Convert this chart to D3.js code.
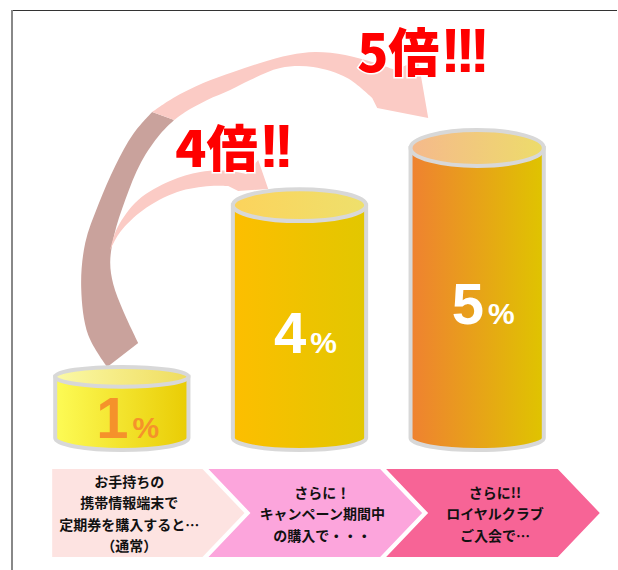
<!DOCTYPE html>
<html><head><meta charset="utf-8">
<script src="https://cdn.jsdelivr.net/npm/d3@7"></script>
<style>html,body{margin:0;padding:0;background:#fff;} svg{display:block;}</style>
</head><body><svg id="chart" width="618" height="570"></svg>
<script>
// ---- data ----
const categories = ["通常", "キャンペーン", "ロイヤルクラブ"];
const rates = [1, 4, 5];
const rateUnit = "%";
const multiplierLabels = ["4倍!!", "5倍!!!"];
const stepLines = [
  ["お手持ちの", "携帯情報端末で", "定期券を購入すると…", "（通常）"],
  ["さらに！", "キャンペーン期間中", "の購入で・・・"],
  ["さらに!!", "ロイヤルクラブ", "ご入会で…"]
];

// ---- styles ----
const bodyColors = [["#fdfb56", "#e9cc04"], ["#fdbe00", "#e2c700"], ["#ef8131", "#dfc400"]];
const capColors = [["#fbf9a6", "#efdc5e"], ["#fcd35c", "#eee06c"], ["#f5b98c", "#eddc6a"]];
const labelColors = ["#f5922b", "#ffffff", "#ffffff"];
const stepColors = ["#fde3e1", "#fca5dc", "#f76496"];
const cjk = "'Noto Sans CJK JP', 'Noto Sans CJK SC', sans-serif";

const svg = d3.select("#chart");
const x = d3.scaleBand().domain(categories).range([33, 566]).paddingInner(0.25).paddingOuter(0.125);
const y = d3.scaleLinear().domain([0, 5]).range([434, 148]);
const base = 438, baseRy = 12;
const topRy = v => 0.035 * (660 - y(v));

const defs = svg.append("defs");
categories.forEach((c, i) => {
  [["body", bodyColors[i]], ["cap", capColors[i]]].forEach(([k, cols]) => {
    const g = defs.append("linearGradient").attr("id", k + i).attr("x1", 0).attr("x2", 1).attr("y1", 0).attr("y2", 0);
    g.append("stop").attr("offset", 0).attr("stop-color", cols[0]);
    g.append("stop").attr("offset", 1).attr("stop-color", cols[1]);
  });
});

// frame
svg.append("line").attr("x1", 11).attr("x2", 617).attr("y1", 10.5).attr("y2", 10.5).attr("stroke", "#333");
svg.append("line").attr("x1", 12).attr("x2", 12).attr("y1", 10).attr("y2", 570).attr("stroke", "#888").attr("stroke-width", 2);

// ---- arrows (decoration anchored to the scales) ----
const O = [x(categories[0]), y(d3.max(rates))];
const P = pts => pts.map(([dx, dy]) => [O[0] + dx, O[1] + dy]);
const curve = d3.line().curve(d3.curveCatmullRom.alpha(0.5));
const seg = (pts, first) => { const s = curve(P(pts)); return first ? s : "L" + s.slice(1); };
const lines = pts => P(pts).map(p => "L" + p[0] + "," + p[1]).join("");

const brown = seg([[52,219],[33,187],[26,140],[30,95],[43,57],[60,18],[78,-14],[97,-36]], true)
  + seg([[119,-28],[105,-14],[86,14],[70,52],[59,87],[55,114],[58,136],[68,163],[83,195]], false) + "Z";
const bigPink = seg([[97,-36],[118,-50],[148,-65],[178,-76],[205,-85],[235,-93],[260,-96],[290,-93],[320,-85],[340,-78]], true)
  + lines([[363,-88],[373,-30],[322,-40]])
  + seg([[317,-50],[292,-70],[258,-81],[225,-80],[195,-68],[175,-58],[152,-48],[130,-36],[119,-28]], false) + "Z";
const smallPink = seg([[55,102],[62,80],[83,52],[115,33],[145,24],[175,23],[191,26]], true)
  + lines([[203,12],[213,41],[183,43]])
  + seg([[173,38],[155,38],[122,44],[88,62],[65,84],[55,102]], false) + "Z";

svg.append("path").attr("d", brown).attr("fill", "#c9a29c");
svg.append("path").attr("d", bigPink).attr("fill", "#fbcbc5");
svg.append("path").attr("d", smallPink).attr("fill", "#fbcbc5");

// ---- cylinders ----
const cyl = svg.append("g").selectAll("g").data(categories.map((c, i) => ({c, v: rates[i], i}))).join("g");
cyl.append("path")
  .attr("d", d => {
    const L = x(d.c), R = L + x.bandwidth(), t = y(d.v);
    return `M${L},${t}L${L},${base}A${x.bandwidth()/2},${baseRy} 0 0 0 ${R},${base}L${R},${t}Z`;
  })
  .attr("fill", d => `url(#body${d.i})`).attr("stroke", "#d8d8d8").attr("stroke-width", 4);
cyl.append("ellipse")
  .attr("cx", d => x(d.c) + x.bandwidth()/2).attr("cy", d => y(d.v))
  .attr("rx", x.bandwidth()/2).attr("ry", d => topRy(d.v))
  .attr("fill", d => `url(#cap${d.i})`).attr("stroke", "#d8d8d8").attr("stroke-width", 4);
const lab = cyl.append("text")
  .attr("x", d => x(d.c) + x.bandwidth()/2 + 6)
  .attr("y", d => (y(d.v) + base)/2 + 31)
  .attr("text-anchor", "middle")
  .attr("font-family", "'Liberation Sans', Arial, sans-serif").attr("font-weight", "bold")
  .attr("fill", d => labelColors[d.i]);
lab.append("tspan").attr("font-size", 58).text(d => d.v);
lab.append("tspan").attr("font-size", 30).attr("dx", 4).text(rateUnit);

// ---- multiplier texts ----
const mPos = [[120, 19, 112, 50], [302, -76, 126, 52]];
svg.append("g").selectAll("text").data(multiplierLabels).join("text")
  .attr("x", (d, i) => O[0] + mPos[i][0]).attr("y", (d, i) => O[1] + mPos[i][1])
  .attr("font-size", (d, i) => mPos[i][3])
  .attr("fill", "#ff0000").attr("stroke", "#fff").attr("stroke-width", 3).attr("paint-order", "stroke")
  .each(function(d, i) {
    const t = d3.select(this);
    const fs = mPos[i][3];
    const m = d.match(/^([^!]*)(!*)$/);
    t.append("tspan").attr("font-family", cjk).attr("font-weight", 900).text(m[1]);
    t.append("tspan").attr("font-family", "'Liberation Sans', Arial, sans-serif").attr("font-weight", "bold")
      .attr("font-size", fs * 1.22).attr("letter-spacing", -fs * 0.12).attr("dx", 1)
      .attr("stroke-width", 2).text(m[2]);
    const w = this.getComputedTextLength();
    const sx = mPos[i][2] / w, x0 = O[0] + mPos[i][0];
    t.attr("transform", `translate(${x0},0) scale(${sx},1) translate(${-x0},0)`);
  });

// ---- step chevrons ----
const depth = 42, chevTop = 469, chevBot = 557, chevMid = (chevTop + chevBot)/2;
const tipX = i => x(categories[i]) + x.bandwidth() + 56;
const steps = categories.map((c, i) => {
  const tip = tipX(i), corner = tip - depth;
  const left = i === 0 ? x(c) - 3 : tipX(i - 1) - 36;
  const notch = i === 0 ? left : left + depth;
  return {i, tip, corner, left, notch};
});
const sg = svg.append("g").selectAll("g").data(steps).join("g");
sg.append("path").attr("d", s => `M${s.left},${chevTop}L${s.corner},${chevTop}L${s.tip},${chevMid}L${s.corner},${chevBot}L${s.left},${chevBot}L${s.notch},${chevMid}Z`)
  .attr("fill", s => stepColors[s.i]);
sg.each(function(s) {
  const ls = stepLines[s.i], lh = 21.5;
  const cx = (s.notch + s.corner)/2 + 2 + (s.i === 1 ? 5 : 0);
  d3.select(this).selectAll("text").data(ls).join("text")
    .attr("x", cx).attr("y", (d, j) => chevMid + (j - (ls.length - 1)/2) * lh)
    .attr("text-anchor", "middle").attr("dominant-baseline", "central")
    .attr("font-family", cjk).attr("font-weight", "bold").attr("font-size", 14).attr("fill", "#111")
    .text(d => d);
});
</script></body></html>
